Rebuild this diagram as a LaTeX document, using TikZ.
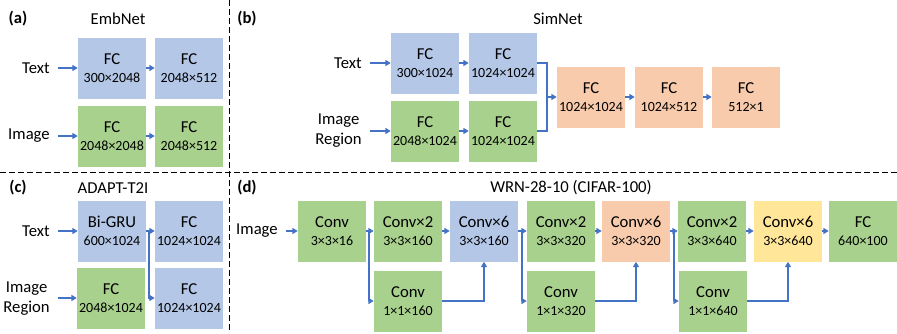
\documentclass[tikz,border=0pt]{standalone}
\usepackage{fontspec}
\setmainfont{Carlito}
\usetikzlibrary{arrows.meta}
\definecolor{BoxBlue}{RGB}{180,199,231}
\definecolor{BoxGreen}{RGB}{169,209,142}
\definecolor{BoxOrange}{RGB}{248,203,173}
\definecolor{BoxYellow}{RGB}{255,230,153}
\definecolor{LinkBlue}{RGB}{68,114,196}
\newcommand{\dimfont}{\fontsize{10.5pt}{13.3pt}\selectfont}

\begin{document}
\begin{tikzpicture}[x=0.75pt,y=-0.75pt,
  layer/.style={minimum width=51pt,minimum height=45.75pt,inner sep=0pt,align=center,
    font=\fontsize{12.5pt}{13.3pt}\selectfont},
  bluebox/.style={layer,fill=BoxBlue},
  greenbox/.style={layer,fill=BoxGreen},
  orangebox/.style={layer,fill=BoxOrange},
  yellowbox/.style={layer,fill=BoxYellow},
  inlabel/.style={anchor=east,align=center,inner xsep=6pt,font=\fontsize{12.5pt}{15pt}\selectfont},
  panel/.style={font=\bfseries\fontsize{12.5pt}{15pt}\selectfont},
  title/.style={font=\fontsize{12.5pt}{15pt}\selectfont},
  wire/.style={LinkBlue,line width=1.1pt},
  link/.style={wire,-{Triangle[length=4pt,width=4.5pt]}},
  sep/.style={line width=0.75pt,dash pattern=on 4.5pt off 2.25pt}]
\useasboundingbox (0,0) rectangle (897,333);
%\draw[help lines,step=50] (0,0) grid (897,333);
\draw[sep] (229,0) -- (229,333);
\draw[sep] (0,172) -- (897,172);
% (a) EmbNet
\node[panel] (pa) at (18,19) {(a)};
\node[title] (ta) at (118,19) {EmbNet};
\node[inlabel] (atext) at (58,68) {Text};
\node[inlabel] (aimg) at (58,136) {Image};
\node[bluebox] (a1) at (112,68) {FC\\\dimfont 300×2048};
\node[bluebox] (a2) at (189,68) {FC\\\dimfont 2048×512};
\node[greenbox] (a3) at (112,136) {FC\\\dimfont 2048×2048};
\node[greenbox] (a4) at (189,136) {FC\\\dimfont 2048×512};
\draw[link] (atext.east) -- (a1.west);
\draw[link] (a1.east) -- (a2.west);
\draw[link] (aimg.east) -- (a3.west);
\draw[link] (a3.east) -- (a4.west);
% (b) SimNet
\node[panel] (pb) at (247,19) {(b)};
\node[title] (tb) at (558,19) {SimNet};
\node[inlabel] (btext) at (370,63) {Text};
\node[inlabel] (bimg) at (370,131) {Image\\Region};
\node[bluebox] (b1) at (425,63) {FC\\\dimfont 300×1024};
\node[bluebox] (b2) at (503,63) {FC\\\dimfont 1024×1024};
\node[greenbox] (b3) at (425,131) {FC\\\dimfont 2048×1024};
\node[greenbox] (b4) at (503,131) {FC\\\dimfont 1024×1024};
\node[orangebox] (b5) at (591,97) {FC\\\dimfont 1024×1024};
\node[orangebox] (b6) at (669,97) {FC\\\dimfont 1024×512};
\node[orangebox] (b7) at (746,97) {FC\\\dimfont 512×1};
\coordinate (bjoin) at (547,97);
\draw[link] (btext.east) -- (b1.west);
\draw[link] (b1.east) -- (b2.west);
\draw[link] (bimg.east) -- (b3.west);
\draw[link] (b3.east) -- (b4.west);
\draw[wire] (b2.east) -| (bjoin) |- (b4.east);
\draw[link] (bjoin) -- (b5.west);
\draw[link] (b5.east) -- (b6.west);
\draw[link] (b6.east) -- (b7.west);
% (c) ADAPT-T2I
\node[panel] (pc) at (18,188) {(c)};
\node[title] (tc) at (113,188) {ADAPT-T2I};
\node[inlabel] (ctext) at (58,231) {Text};
\node[inlabel] (cimg) at (58,299) {Image\\Region};
\node[bluebox] (c1) at (112,231) {Bi-GRU\\\dimfont 600×1024};
\node[bluebox] (c2) at (189,231) {FC\\\dimfont 1024×1024};
\node[greenbox] (c3) at (111,298) {FC\\\dimfont 2048×1024};
\node[bluebox] (c4) at (189,298) {FC\\\dimfont 1024×1024};
\coordinate (csplit) at (149,231);
\draw[link] (ctext.east) -- (c1.west);
\draw[link] (cimg.east |- c3.west) -- (c3.west);
\draw[wire] (c1.east) -- (csplit);
\draw[link] (csplit) -- (c2.west);
\draw[link] (csplit) |- (c4.west);
% (d) WRN-28-10
\node[panel] (pd) at (247,188) {(d)};
\node[title] (td) at (571,188) {WRN-28-10 (CIFAR-100)};
\node[inlabel] (dimg) at (286,231) {Image};
\node[greenbox] (d1) at (332,231) {Conv\\\dimfont 3×3×16};
\node[greenbox] (d2) at (408,231) {Conv×2\\\dimfont 3×3×160};
\node[bluebox] (d3) at (484,231) {Conv×6\\\dimfont 3×3×160};
\node[greenbox] (d4) at (561,231) {Conv×2\\\dimfont 3×3×320};
\node[orangebox] (d5) at (636,231) {Conv×6\\\dimfont 3×3×320};
\node[greenbox] (d6) at (712,231) {Conv×2\\\dimfont 3×3×640};
\node[yellowbox] (d7) at (788,231) {Conv×6\\\dimfont 3×3×640};
\node[greenbox] (d8) at (863,231) {FC\\\dimfont 640×100};
\node[greenbox] (e1) at (408,301) {Conv\\\dimfont 1×1×160};
\node[greenbox] (e2) at (561,301) {Conv\\\dimfont 1×1×320};
\node[greenbox] (e3) at (713,301) {Conv\\\dimfont 1×1×640};
\coordinate (s1) at (369,231);
\coordinate (s2) at (522,231);
\coordinate (s3) at (674,231);
\draw[link] (dimg.east) -- (d1.west);
\draw[wire] (d1.east) -- (s1);
\draw[link] (s1) -- (d2.west);
\draw[link] (s1) |- (e1.west);
\draw[link] (d2.east) -- (d3.west);
\draw[link] (e1.east) -| (d3.south);
\draw[wire] (d3.east) -- (s2);
\draw[link] (s2) -- (d4.west);
\draw[link] (s2) |- (e2.west);
\draw[link] (d4.east) -- (d5.west);
\draw[link] (e2.east) -| (d5.south);
\draw[wire] (d5.east) -- (s3);
\draw[link] (s3) -- (d6.west);
\draw[link] (s3) |- (e3.west);
\draw[link] (d6.east) -- (d7.west);
\draw[link] (e3.east) -| (d7.south);
\draw[link] (d7.east) -- (d8.west);
\end{tikzpicture}
\end{document}
